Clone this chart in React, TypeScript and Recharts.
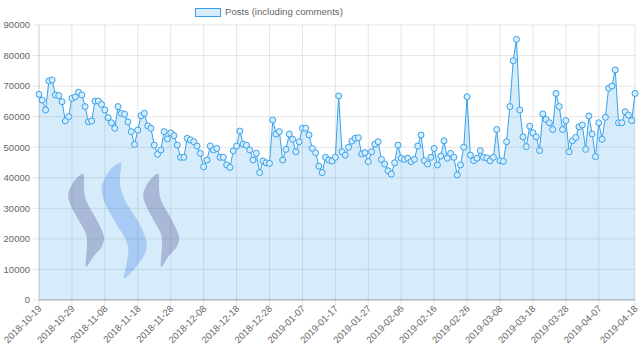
import React from "react";
import { ComposedChart, Area, XAxis, YAxis, CartesianGrid } from "recharts";

// ---- data ----
const startDate = "2018-10-19";
const posts: number[] = [
  67300, 65400, 62200, 71700, 72000, 67100, 66900, 64900, 58600, 60000,
  66000, 66500, 68000, 67100, 63300, 58300, 58600, 65100, 65100, 64000,
  62200, 59700, 58000, 56200, 63300, 61100, 60800, 58300, 55100, 50900,
  55600, 60300, 61100, 57000, 56200, 50700, 47700, 49100, 55100, 52700,
  54700, 53800, 50700, 46700, 46700, 52900, 52400, 51800, 50400, 48000,
  43600, 45800, 50400, 49100, 49600, 46700, 46700, 44200, 43400, 48800,
  50400, 55300, 51000, 50700, 49100, 45800, 48000, 41700, 45500, 44900,
  44700, 58900, 54300, 55100, 45800, 49300, 54300, 52600, 48500, 51800,
  56200, 56200, 54000, 49600, 48200, 43800, 41700, 46700, 45800, 45500,
  46700, 66800, 48500, 47400, 50000, 52000, 52900, 53100, 47800, 48200,
  45300, 48500, 51000, 51800, 46000, 44500, 42300, 41200, 44900, 50700,
  46400, 46000, 46400, 45300, 46000, 50400, 54000, 45600, 44500, 46700,
  49600, 44200, 47100, 52100, 46400, 48000, 46700, 40900, 44200, 50000,
  66500, 47400, 45600, 46400, 48900, 46700, 46500, 45600, 46700, 55800,
  45600, 45400, 51800, 63300, 78300, 85300, 62200, 53400, 50200, 56900,
  54700, 53400, 48900, 60900, 59100, 58000, 55800, 67600, 63300, 55800,
  58700, 48500, 52100, 53200, 56700, 57300, 49300, 60200, 54300, 46900,
  58000, 52600, 59800, 69300, 70000, 75300, 58000, 58000, 61600, 60500,
  58700, 67600,
];
const tickLabels: string[] = [
  "2018-10-19", "2018-10-29", "2018-11-08", "2018-11-18", "2018-11-28",
  "2018-12-08", "2018-12-18", "2018-12-28", "2019-01-07", "2019-01-17",
  "2019-01-27", "2019-02-06", "2019-02-16", "2019-02-26", "2019-03-08",
  "2019-03-18", "2019-03-28", "2019-04-07", "2019-04-18",
];
const yTicks: number[] = [0, 10000, 20000, 30000, 40000, 50000, 60000, 70000, 80000, 90000];
const seriesName = "Posts (including comments)";

function dateOf(i: number): string {
  const d = new Date(startDate + "T00:00:00Z");
  d.setUTCDate(d.getUTCDate() + i);
  return d.toISOString().slice(0, 10);
}
const data = posts.map((v, i) => ({ day: i, date: dateOf(i), posts: v }));
const dayOfLabel = (s: string) => data.findIndex((d) => d.date === s);
const tickDays = tickLabels.map(dayOfLabel);

// ---- watermark (decoration) ----
const leftShape: [number, number][] = [
  [83.3, 174], [84, 187], [85, 197], [88.3, 205], [95, 216.7], [101.7, 230],
  [104, 238.3], [101.7, 246.7], [93.3, 256.7], [86, 266.7], [86.7, 250],
  [86.7, 236.7], [83.3, 228.3], [76.7, 216.7], [70.7, 205], [68.3, 196.7],
  [69.3, 190], [75, 180],
];
const midShape: [number, number][] = [
  [120.7, 162.7], [120, 176.7], [120.7, 188.3], [126.7, 203.3], [138.3, 221.7],
  [145, 236.7], [146.7, 246.7], [143.3, 256.7], [133.3, 270], [124, 278.3],
  [126.7, 263.3], [128.3, 250], [125, 238.3], [115, 221.7], [105, 203.3],
  [101.7, 190], [103.3, 181.7], [110, 170],
];

function smoothPath(pts: [number, number][], dx = 0): string {
  const n = pts.length;
  const P = pts.map(([x, y]) => [x + dx, y]);
  let d = `M${P[0][0]},${P[0][1]}`;
  for (let i = 0; i < n; i++) {
    const p0 = P[(i - 1 + n) % n], p1 = P[i], p2 = P[(i + 1) % n], p3 = P[(i + 2) % n];
    const c1x = p1[0] + (p2[0] - p0[0]) / 6, c1y = p1[1] + (p2[1] - p0[1]) / 6;
    const c2x = p2[0] - (p3[0] - p1[0]) / 6, c2y = p2[1] - (p3[1] - p1[1]) / 6;
    d += ` C${c1x},${c1y} ${c2x},${c2y} ${p2[0]},${p2[1]}`;
  }
  return d + " Z";
}

const FONT = '"Liberation Sans", Arial, Helvetica, sans-serif';
const BLUE = "#36a2eb";

const XTick = (props: any) => {
  const { x, y, payload } = props;
  const label = dateOf(payload.value);
  return (
    <g transform={`translate(${x + 1},${y - 1})`}>
      <text
        x={0}
        y={0}
        dy="0.35em"
        textAnchor="end"
        transform="rotate(-45)"
        fill="#666"
        fontSize={9.5}
        fontFamily={FONT}
      >
        {label}
      </text>
    </g>
  );
};

export default function App() {
  return (
    <div style={{ position: "absolute", left: 0, top: 0, width: 640, height: 361, background: "#fff" }}>
      <svg width={640} height={361} style={{ position: "absolute", left: 0, top: 0 }}>
        <path d={smoothPath(leftShape)} fill="#c6bfd2" />
        <path d={smoothPath(midShape)} fill="#c4d6f7" />
        <path d={smoothPath(leftShape, 75)} fill="#c6bfd2" />
      </svg>
      <div style={{ position: "absolute", left: 0, top: 0 }}>
        <ComposedChart
          width={640}
          height={361}
          data={data}
          margin={{ top: 25, right: 5, bottom: 0, left: 0 }}
        >
          <CartesianGrid stroke="rgba(0,0,0,0.1)" />
          <XAxis
            dataKey="day"
            type="number"
            domain={[0, posts.length - 1]}
            ticks={tickDays}
            interval={0}
            height={61}
            tick={<XTick />}
            tickSize={6}
            tickMargin={2}
            tickLine={{ stroke: "rgba(0,0,0,0.1)" }}
            axisLine={{ stroke: "rgba(0,0,0,0.25)" }}
          />
          <YAxis
            domain={[0, 90000]}
            ticks={yTicks}
            interval={0}
            width={39}
            tickSize={6}
            tickMargin={3}
            tickLine={{ stroke: "rgba(0,0,0,0.1)" }}
            axisLine={{ stroke: "rgba(0,0,0,0.1)" }}
            tick={{ fill: "#666", fontSize: 9.5, fontFamily: FONT }}
          />
          <Area
            type="linear"
            dataKey="posts"
            name={seriesName}
            stroke={BLUE}
            strokeWidth={1}
            fill={BLUE}
            fillOpacity={0.2}
            dot={{ r: 3, stroke: BLUE, strokeWidth: 1, fill: "#d7ecfb", fillOpacity: 1 }}
            activeDot={false}
            isAnimationActive={false}
          />
        </ComposedChart>
      </div>
      <div
        style={{
          position: "absolute",
          left: 195,
          top: 8,
          width: 24,
          height: 7,
          background: "#d7ecfb",
          border: `1px solid ${BLUE}`,
        }}
      />
      <div
        style={{
          position: "absolute",
          left: 225,
          top: 6,
          fontFamily: '"Liberation Sans Narrow", "Arial Narrow", ' + FONT,
          fontSize: 9.6,
          color: "#666",
          whiteSpace: "nowrap",
          lineHeight: "12px",
        }}
      >
        {seriesName}
      </div>
    </div>
  );
}
